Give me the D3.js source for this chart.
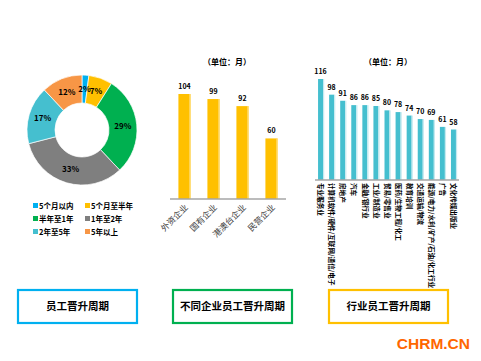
<!DOCTYPE html>
<meta charset="utf-8">
<style>
	body { margin: 0; background: #fff; }
	svg { font-family: "Noto Sans CJK SC", "Noto Sans", sans-serif; }
	.val { font-size: 7px; font-weight: bold; fill: #000; text-anchor: middle; }
	.unit { font-size: 8px; font-weight: bold; text-anchor: middle; }
	.axis { stroke: #a6a6a6; stroke-width: 1.5; }
</style>
<body>
<script src="https://cdn.jsdelivr.net/npm/d3@7"></script>
<script>
var width = 481, height = 361;

// donut
var periodNames = ["5个月以内", "5个月至半年", "半年至1年", "1年至2年", "2年至5年", "5年以上"];
var periodShare = [2, 7, 29, 33, 17, 12];
var periodColors = ["#00b0f0", "#ffc000", "#00b050", "#7f7f7f", "#45bfcf", "#f79646"];

// company type bars
var companyTypes = ["外资企业", "国有企业", "港澳台企业", "民营企业"];
var companyMonths = [104, 99, 92, 60];

// industry bars
var industries = ["专业服务业", "计算机软件/硬件/互联网/通信/电子", "房地产", "汽车", "金融/银行业",
  "工业/制造业", "贸易/零售业", "医药/生物工程/化工", "教育培训", "交通运输/物流",
  "能源/电力/水利/矿产/石油/化工行业", "广告", "文化传媒出版业"];
var industryMonths = [116, 98, 91, 86, 86, 85, 80, 78, 74, 70, 69, 61, 58];

var boxTitles = ["员工晋升周期", "不同企业员工晋升周期", "行业员工晋升周期"];
var boxColors = ["#00b0f0", "#00b050", "#ffc000"];

var svg = d3.select("body").append("svg")
    .attr("width", width)
    .attr("height", height);

// ---- donut ----
var pie = d3.pie().sort(null).value(function(d) { return d; });
var arc = d3.arc().innerRadius(27).outerRadius(55);
var donut = svg.append("g").attr("transform", "translate(82,130)");
var arcs = pie(periodShare);

donut.selectAll("path").data(arcs)
  .enter().append("path")
    .attr("d", arc)
    .attr("fill", function(d, i) { return periodColors[i]; })
    .attr("stroke", "#fff")
    .attr("stroke-width", 0.7);

donut.selectAll("text").data(arcs)
  .enter().append("text")
    .attr("transform", function(d) { return "translate(" + arc.centroid(d) + ")"; })
    .attr("dy", "0.35em")
    .attr("text-anchor", "middle")
    .style("font-size", "8px")
    .style("font-weight", "bold")
    .text(function(d) { return d.data + "%"; });

var legend = svg.append("g").selectAll("g").data(periodNames)
  .enter().append("g")
    .attr("transform", function(d, i) {
      return "translate(" + (i % 2 ? 85 : 33) + "," + (206 + Math.floor(i / 2) * 13) + ")";
    });
legend.append("rect")
    .attr("x", 0).attr("y", -3)
    .attr("width", 5).attr("height", 5)
    .attr("fill", function(d, i) { return periodColors[i]; });
legend.append("text")
    .attr("x", 6).attr("dy", "0.35em")
    .style("font-size", "7.5px")
    .style("font-weight", "bold")
    .text(function(d) { return d; });

// ---- company type bars ----
var x1 = d3.scaleBand().domain(companyTypes).range([170, 286]).paddingInner(0.58).paddingOuter(0.29);
var y1 = d3.scaleLinear().domain([0, 104]).range([199, 94]);

svg.append("text").attr("class", "unit").attr("x", 227).attr("y", 65).text("（单位：月）");

var g1 = svg.append("g");
g1.selectAll("rect.bar").data(companyMonths)
  .enter().append("rect")
    .attr("class", "bar")
    .attr("x", function(d, i) { return x1(companyTypes[i]); })
    .attr("y", function(d) { return y1(d); })
    .attr("width", x1.bandwidth())
    .attr("height", function(d) { return y1(0) - y1(d); })
    .attr("fill", "#ffc000");
g1.selectAll("rect.edge").data(companyMonths)
  .enter().append("rect")
    .attr("class", "edge")
    .attr("x", function(d, i) { return x1(companyTypes[i]) + x1.bandwidth() - 1.2; })
    .attr("y", function(d) { return y1(d); })
    .attr("width", 1.2)
    .attr("height", function(d) { return y1(0) - y1(d); })
    .attr("fill", "#ffe08a");
g1.selectAll("text.val").data(companyMonths)
  .enter().append("text")
    .attr("class", "val")
    .attr("x", function(d, i) { return x1(companyTypes[i]) + x1.bandwidth() / 2; })
    .attr("y", function(d) { return y1(d) - 5; })
    .text(function(d) { return d; });
g1.append("line").attr("class", "axis")
    .attr("x1", 170).attr("x2", 286).attr("y1", y1(0)).attr("y2", y1(0));
g1.selectAll("text.cat").data(companyTypes)
  .enter().append("text")
    .attr("class", "cat")
    .attr("transform", function(d) {
      return "translate(" + (x1(d) + x1.bandwidth() / 2 + 4) + "," + (y1(0) + 9) + ") rotate(-45)";
    })
    .attr("text-anchor", "end")
    .style("font-size", "8.5px")
    .style("fill", "#404040")
    .text(function(d) { return d; });

// ---- industry bars ----
var x2 = d3.scaleBand().domain(industries).range([315, 459]).paddingInner(0.55).paddingOuter(0.275);
var y2 = d3.scaleLinear().domain([0, 116]).range([180, 79]);

svg.append("text").attr("class", "unit").attr("x", 388).attr("y", 65).text("（单位：月）");

var g2 = svg.append("g");
g2.selectAll("rect.bar").data(industryMonths)
  .enter().append("rect")
    .attr("class", "bar")
    .attr("x", function(d, i) { return x2(industries[i]); })
    .attr("y", function(d) { return y2(d); })
    .attr("width", x2.bandwidth())
    .attr("height", function(d) { return y2(0) - y2(d); })
    .attr("fill", "#45bfcf");
g2.selectAll("rect.edge").data(industryMonths)
  .enter().append("rect")
    .attr("class", "edge")
    .attr("x", function(d, i) { return x2(industries[i]) + x2.bandwidth(); })
    .attr("y", function(d) { return y2(d); })
    .attr("width", 1.2)
    .attr("height", function(d) { return y2(0) - y2(d); })
    .attr("fill", "#c5eaf0");
g2.selectAll("text.val").data(industryMonths)
  .enter().append("text")
    .attr("class", "val")
    .attr("x", function(d, i) { return x2(industries[i]) + x2.bandwidth() / 2; })
    .attr("y", function(d) { return y2(d) - 5; })
    .text(function(d) { return d; });
g2.append("line").attr("class", "axis")
    .attr("x1", 315).attr("x2", 459).attr("y1", y2(0)).attr("y2", y2(0));
g2.selectAll("text.cat").data(industries)
  .enter().append("text")
    .attr("class", "cat")
    .attr("transform", function(d) {
      return "translate(" + (x2(d) + x2.bandwidth() / 2) + "," + (y2(0) + 3) + ") rotate(90)";
    })
    .attr("dy", "0.35em")
    .style("font-size", "6.6px")
    .style("font-weight", "bold")
    .text(function(d) { return d; });

// ---- title boxes ----
var boxX = [18, 173, 329];
var boxes = svg.append("g").selectAll("g").data(boxTitles)
  .enter().append("g")
    .attr("transform", function(d, i) { return "translate(" + boxX[i] + ",290)"; });
boxes.append("rect")
    .attr("width", 119).attr("height", 33)
    .attr("fill", "#fff")
    .attr("stroke", function(d, i) { return boxColors[i]; })
    .attr("stroke-width", 2.2);
boxes.append("text")
    .attr("x", 59.5).attr("y", 16)
    .attr("dy", "0.35em")
    .attr("text-anchor", "middle")
    .style("font-size", "10.5px")
    .style("font-weight", "bold")
    .text(function(d) { return d; });

svg.append("text")
    .attr("x", 470).attr("y", 349)
    .attr("text-anchor", "end")
    .style("font-family", "Arial, 'Liberation Sans', sans-serif")
    .style("font-size", "15.5px")
    .style("font-weight", "bold")
    .style("fill", "#ff6600")
    .text("CHRM.CN");
</script>
</body>
